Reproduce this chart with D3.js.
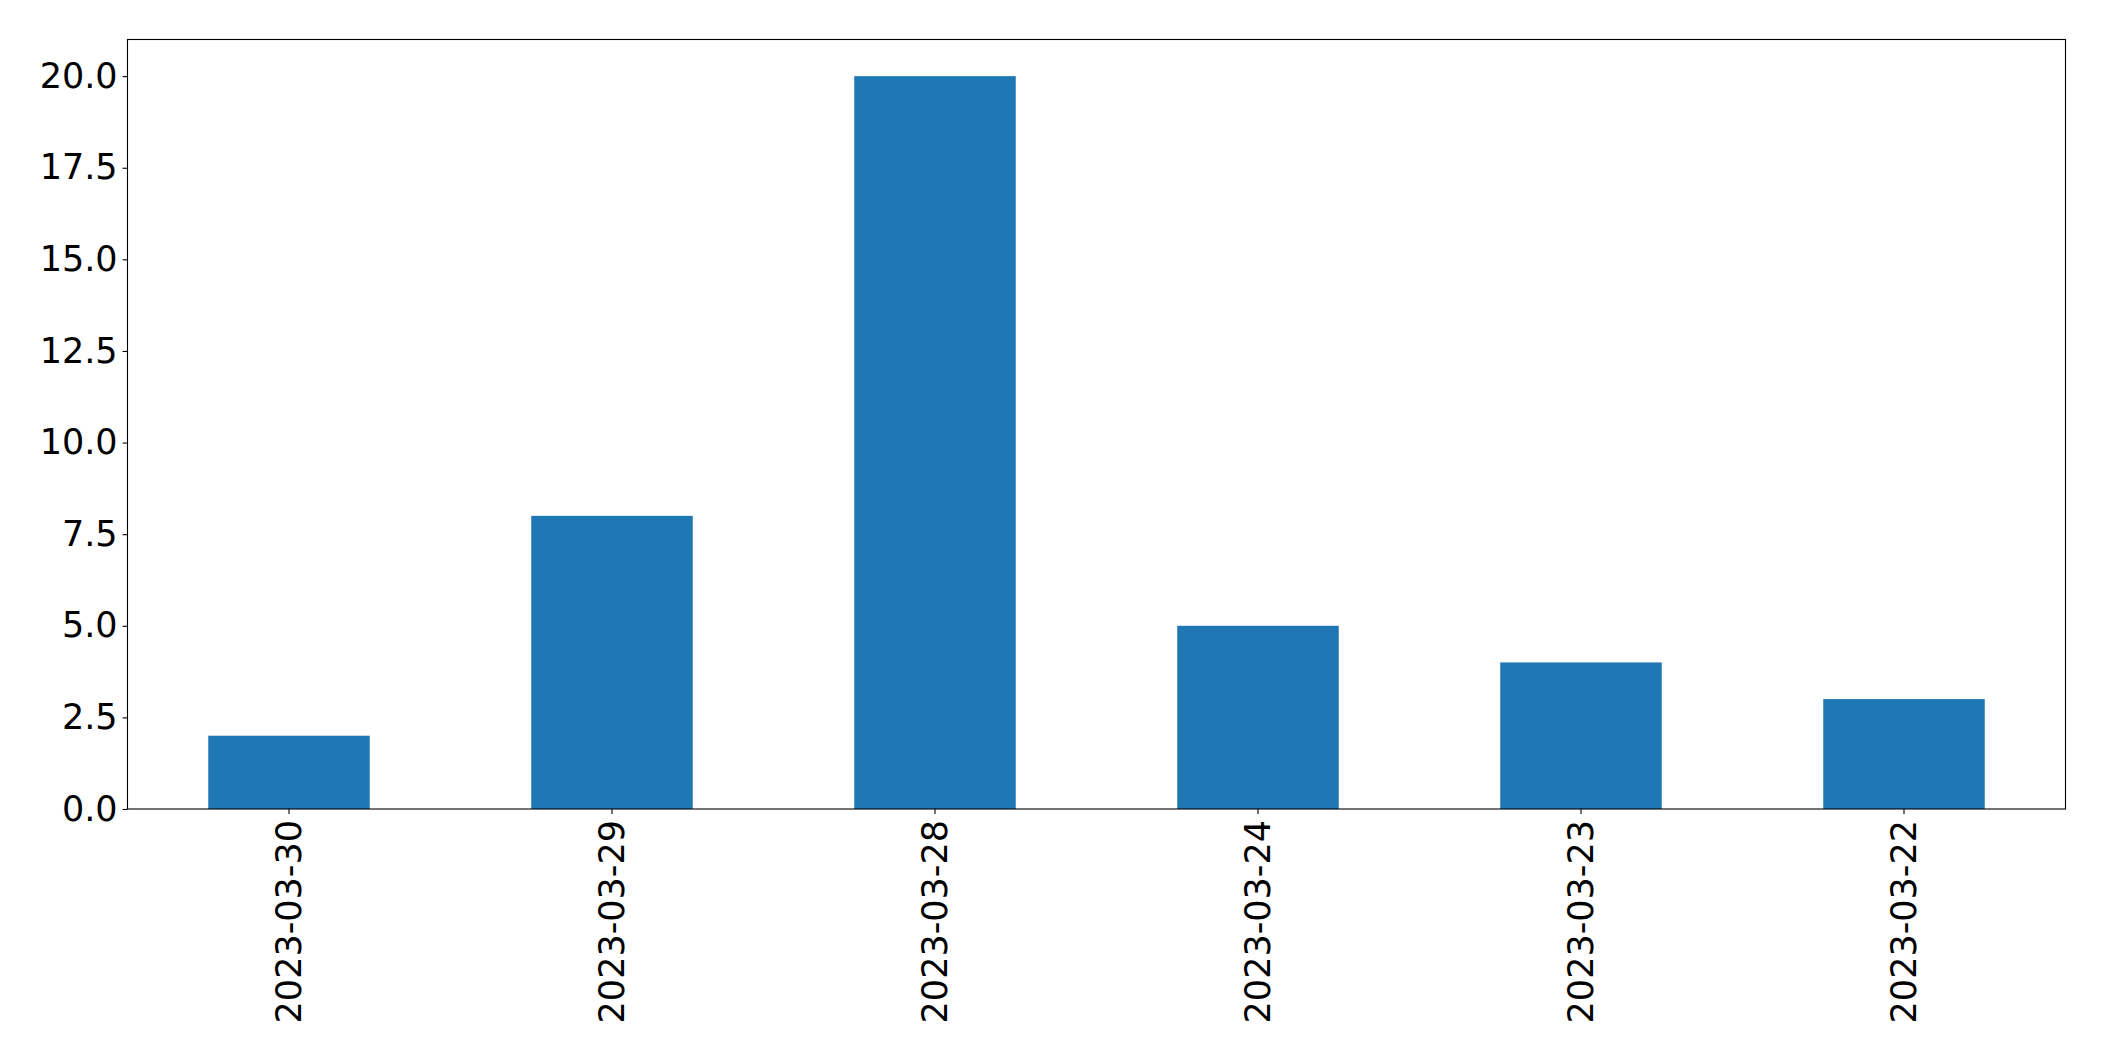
<!DOCTYPE html>
<html><head><meta charset="utf-8">
<script src="https://cdn.jsdelivr.net/npm/d3@7"></script>
<style>html,body{margin:0;padding:0;background:#fff;}svg{display:block;}</style>
</head><body>
<script>
const categories = ["2023-03-30","2023-03-29","2023-03-28","2023-03-24","2023-03-23","2023-03-22"];
const values = [2, 8, 20, 5, 4, 3];
const yTicks = [0, 2.5, 5, 7.5, 10, 12.5, 15, 17.5, 20];

const W = 2104, H = 1061;
const mLeft = 127.5, mRight = 2065.5, mTop = 39.5, mBottom = 809;
const svg = d3.select("body").append("svg").attr("width", W).attr("height", H);

const x = d3.scaleBand().domain(categories).range([mLeft, mRight]).paddingInner(0.5).paddingOuter(0.25);
const y = d3.scaleLinear().domain([0, 21]).range([mBottom, mTop]);

svg.append("g").selectAll("rect").data(values).join("rect")
  .attr("x", (d, i) => x(categories[i]))
  .attr("width", x.bandwidth())
  .attr("y", d => y(d))
  .attr("height", d => y(0) - y(d))
  .attr("fill", "#1f77b4");

const font = "'DejaVu Sans', sans-serif";
const fs = "35px";

const yAxis = svg.append("g").attr("transform", `translate(${mLeft},0)`)
  .call(d3.axisLeft(y).tickValues(yTicks).tickFormat(d3.format(".1f")).tickSize(4.9).tickPadding(5));
yAxis.select(".domain").remove();
yAxis.selectAll("line").attr("stroke", "#000").attr("stroke-width", 1.1);
yAxis.selectAll("text").attr("font-family", font).attr("font-size", fs).attr("fill", "#000");

const xAxis = svg.append("g").attr("transform", `translate(0,${mBottom})`)
  .call(d3.axisBottom(x).tickSize(4.9).tickPadding(0));
xAxis.select(".domain").remove();
xAxis.selectAll("line").attr("stroke", "#000").attr("stroke-width", 1.1);
xAxis.selectAll("text")
  .attr("font-family", font).attr("font-size", fs).attr("fill", "#000")
  .attr("y", 0).attr("dy", null)
  .attr("transform", "translate(0,11) rotate(-90)")
  .attr("text-anchor", "end")
  .attr("dominant-baseline", "central");

svg.append("rect").attr("x", mLeft).attr("y", mTop)
  .attr("width", mRight - mLeft).attr("height", mBottom - mTop)
  .attr("fill", "none").attr("stroke", "#000").attr("stroke-width", 1.1);
</script>
</body></html>
